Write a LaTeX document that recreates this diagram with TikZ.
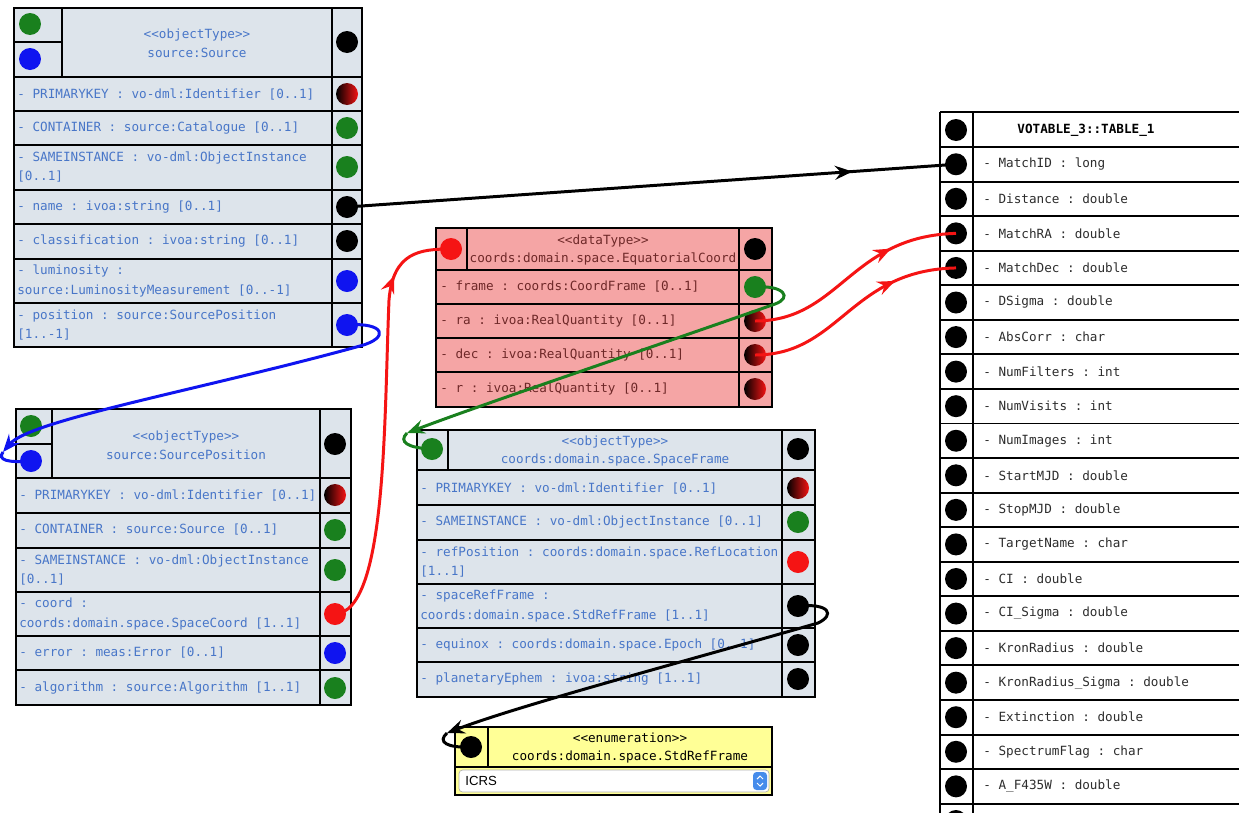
\documentclass[tikz,border=0pt]{standalone}
\usepackage{fontspec}
\setmonofont{DejaVu Sans Mono}
\newfontfamily\uifont{Liberation Sans}
\usetikzlibrary{arrows.meta,decorations.markings}

\definecolor{umlbg}{RGB}{221,228,235}
\definecolor{umltext}{RGB}{72,118,200}
\definecolor{eqbg}{RGB}{245,165,165}
\definecolor{eqtext}{RGB}{110,40,40}
\definecolor{enumbg}{RGB}{255,255,150}
\definecolor{vottext}{RGB}{45,45,45}
\definecolor{umlgreen}{RGB}{25,128,30}
\definecolor{umlblue}{RGB}{15,20,240}
\definecolor{umlred}{RGB}{245,20,20}
\definecolor{stepblue}{RGB}{70,140,235}

\begin{document}
\begin{tikzpicture}[x=0.02cm, y=-0.02cm, >={Stealth[length=10pt,width=8pt,inset=3.5pt]},
    boxline/.style={line width=1.1pt},
    port/.style={circle, inner sep=0pt, minimum size=0.44cm},
    kport/.style={port, fill=black},
    gport/.style={port, fill=umlgreen},
    bport/.style={port, fill=umlblue},
    rport/.style={port, fill=umlred},
    pkport/.style={port, left color=black, right color=umlred},
    attr/.style={anchor=west, align=left, inner sep=0pt, font=\ttfamily\fontsize{7.2}{11.3}\selectfont},
    title/.style={align=center, inner sep=0pt, font=\ttfamily\fontsize{7.2}{10.6}\selectfont},
    link/.style={line width=1.7pt},
    tipat/.style={postaction={decorate}, decoration={markings,
        mark=at position #1 with {\arrow{>}}}}
  ]
  \useasboundingbox (0,0) rectangle (1239,812);
  \clip (0,0) rectangle (1239,812);
  \fill[white] (0,0) rectangle (1239,812);

  % source:Source
  \fill[umlbg] (14,8) rectangle (362,347);
  \foreach \y in {77,111,145,190,224,259,303}
    \draw[boxline] (14,\y) -- (362,\y);
  \draw[boxline] (14,42) -- (62,42) (62,8) -- (62,77) (332,8) -- (332,347);
  \draw[boxline] (14,8) rectangle (362,347);
  \node[title, text=umltext] (src-title) at (197,43) {<<objectType>>\\source:Source};
  \node[gport] (src-g) at (30,24) {};
  \node[bport] (src-b) at (30,59) {};
  \node[kport] (src-h) at (347,42) {};
  \foreach \yc/\txt/\st/\nm in {
      94/{- PRIMARYKEY : vo-dml:Identifier [0..1]}/pkport/pk,
      128/{- CONTAINER : source:Catalogue [0..1]}/gport/cont,
      167/{- SAMEINSTANCE : vo-dml:ObjectInstance\\{}[0..1]}/gport/same,
      207/{- name : ivoa:string [0..1]}/kport/name,
      241/{- classification : ivoa:string [0..1]}/kport/class,
      281/{- luminosity :\\source:LuminosityMeasurement [0..-1]}/bport/lum,
      325/{- position : source:SourcePosition\\{}[1..-1]}/bport/pos} {
    \node[attr, text=umltext] at (17,\yc) {\txt};
    \node[\st] (src-\nm) at (347,\yc) {};
  }

  % source:SourcePosition
  \fill[umlbg] (16,409) rectangle (351,705);
  \foreach \y in {478,513,548,592,636,670}
    \draw[boxline] (16,\y) -- (351,\y);
  \draw[boxline] (16,444) -- (52,444) (52,409) -- (52,478) (320,409) -- (320,705);
  \draw[boxline] (16,409) rectangle (351,705);
  \node[title, text=umltext] (spos-title) at (186,445) {<<objectType>>\\source:SourcePosition};
  \node[gport] (spos-g) at (31,426) {};
  \node[bport] (spos-b) at (31,461) {};
  \node[kport] (spos-h) at (335,444) {};
  \foreach \yc/\txt/\st/\nm in {
      495/{- PRIMARYKEY : vo-dml:Identifier [0..1]}/pkport/pk,
      530/{- CONTAINER : source:Source [0..1]}/gport/cont,
      570/{- SAMEINSTANCE : vo-dml:ObjectInstance\\{}[0..1]}/gport/same,
      614/{- coord :\\coords:domain.space.SpaceCoord [1..1]}/rport/coord,
      653/{- error : meas:Error [0..1]}/bport/err,
      688/{- algorithm : source:Algorithm [1..1]}/gport/algo} {
    \node[attr, text=umltext] at (19,\yc) {\txt};
    \node[\st] (spos-\nm) at (335,\yc) {};
  }

  % coords:domain.space.EquatorialCoord
  \fill[eqbg] (436,228) rectangle (772,407);
  \foreach \y in {270,304,338,372}
    \draw[boxline] (436,\y) -- (772,\y);
  \draw[boxline] (467,228) -- (467,270) (739,228) -- (739,407);
  \draw[boxline] (436,228) rectangle (772,407);
  \node[title, text=eqtext] (eq-title) at (603,250) {<<dataType>>\\coords:domain.space.EquatorialCoord};
  \node[rport] (eq-in) at (451,249) {};
  \node[kport] (eq-h) at (755,249) {};
  \foreach \yc/\txt/\st/\nm in {
      287/{- frame : coords:CoordFrame [0..1]}/gport/frame,
      321/{- ra : ivoa:RealQuantity [0..1]}/pkport/ra,
      355/{- dec : ivoa:RealQuantity [0..1]}/pkport/dec,
      389/{- r : ivoa:RealQuantity [0..1]}/pkport/r} {
    \node[attr, text=eqtext] at (440,\yc) {\txt};
    \node[\st] (eq-\nm) at (755,\yc) {};
  }

  % coords:domain.space.SpaceFrame
  \fill[umlbg] (417,430) rectangle (815,697);
  \foreach \y in {470,505,540,584,628,662}
    \draw[boxline] (417,\y) -- (815,\y);
  \draw[boxline] (448,430) -- (448,470) (782,430) -- (782,697);
  \draw[boxline] (417,430) rectangle (815,697);
  \node[title, text=umltext] (sf-title) at (615,451) {<<objectType>>\\coords:domain.space.SpaceFrame};
  \node[gport] (sf-in) at (432,449) {};
  \node[kport] (sf-h) at (798,449) {};
  \foreach \yc/\txt/\st/\nm in {
      488/{- PRIMARYKEY : vo-dml:Identifier [0..1]}/pkport/pk,
      522/{- SAMEINSTANCE : vo-dml:ObjectInstance [0..1]}/gport/same,
      562/{- refPosition : coords:domain.space.RefLocation\\{}[1..1]}/rport/refpos,
      606/{- spaceRefFrame :\\coords:domain.space.StdRefFrame [1..1]}/kport/sref,
      645/{- equinox : coords:domain.space.Epoch [0..1]}/kport/equi,
      679/{- planetaryEphem : ivoa:string [1..1]}/kport/ephem} {
    \node[attr, text=umltext] at (420,\yc) {\txt};
    \node[\st] (sf-\nm) at (798,\yc) {};
  }

  % coords:domain.space.StdRefFrame (enumeration)
  \fill[enumbg] (455,727) rectangle (772,795);
  \draw[boxline] (455,767) -- (772,767) (488,727) -- (488,767);
  \draw[boxline] (455,727) rectangle (772,795);
  \node[title] (enum-title) at (630,748) {<<enumeration>>\\coords:domain.space.StdRefFrame};
  \node[kport] (enum-in) at (471,747) {};
  \draw[gray!60, fill=white, rounded corners=2pt] (459,770) rectangle (769,792);
  \node[anchor=west, inner sep=0pt, font=\uifont\fontsize{7.5}{9}\selectfont] (enum-val) at (465,781) {ICRS};
  \fill[stepblue, rounded corners=2pt] (753,772) rectangle (767,790);
  \draw[white, line width=0.6pt] (757,779) -- (760,776) -- (763,779) (757,783) -- (760,786) -- (763,783);

  % VOTABLE_3::TABLE_1
  \fill[white] (940,112) rectangle (1260,830);
  \draw[boxline] (940,112) -- (1260,112) (940,147) -- (1260,147);
  \draw[boxline] (940,112) -- (940,830) (973,112) -- (973,830);
  \node[attr, anchor=center, font=\ttfamily\bfseries\fontsize{7.2}{9}\selectfont] (vot-title) at (1086,130) {VOTABLE\_3::TABLE\_1};
  \node[kport] (vot-h) at (956,130) {};
  \foreach \fld/\typ [count=\i] in {MatchID/long, Distance/double, MatchRA/double,
      MatchDec/double, DSigma/double, AbsCorr/char, NumFilters/int, NumVisits/int,
      NumImages/int, StartMJD/double, StopMJD/double, TargetName/char, CI/double,
      CI\_Sigma/double, KronRadius/double, KronRadius\_Sigma/double, Extinction/double,
      SpectrumFlag/char, A\_F435W/double} {
    \draw[boxline] (940,{147+34.56*\i}) -- (1260,{147+34.56*\i});
    \node[attr, text=vottext] at (983,{129.7+34.56*\i}) {- \fld{} : \typ};
    \node[kport] (vot-\i) at (956,{129.7+34.56*\i}) {};
  }
  \node[kport] (vot-20) at (956,821) {};

  % connectors
  \draw[link, tipat=0.83] (src-name.center) -- (vot-1.center);
  \draw[link, umlred, tipat=0.84] (spos-coord.center)
      .. controls (387,612) and (384,420) .. (389,300)
      .. controls (393,252) and (420,249) .. (eq-in.center);
  \draw[link, umlred, tipat=0.7] (eq-ra.center)
      .. controls (840,321) and (850,236) .. (vot-3.center);
  \draw[link, umlred, tipat=0.72] (eq-dec.center)
      .. controls (840,355) and (850,270) .. (vot-4.center);

  % loops into the left ports
  \coordinate (pos-tip) at (3,452);
  \draw[link, umlblue, ->] (src-pos.center)
      .. controls (385,322) and (390,338) .. (360,346)
      .. controls (200,390) and (30,420) .. (pos-tip);
  \draw[link, umlblue] (pos-tip) .. controls (-3,460) and (8,463) .. (spos-b.center);

  \coordinate (frame-tip) at (407,433);
  \draw[link, umlgreen, ->] (eq-frame.center)
      .. controls (785,285) and (792,298) .. (775,304)
      .. controls (650,348) and (480,405) .. (frame-tip);
  \draw[link, umlgreen] (frame-tip) .. controls (398,442) and (408,448) .. (sf-in.center);

  \coordinate (sref-tip) at (447,733);
  \draw[link, ->] (sf-sref.center)
      .. controls (830,603) and (835,615) .. (818,623)
      .. controls (690,660) and (520,705) .. (sref-tip);
  \draw[link] (sref-tip) .. controls (437,742) and (447,748) .. (enum-in.center);
\end{tikzpicture}
\end{document}
